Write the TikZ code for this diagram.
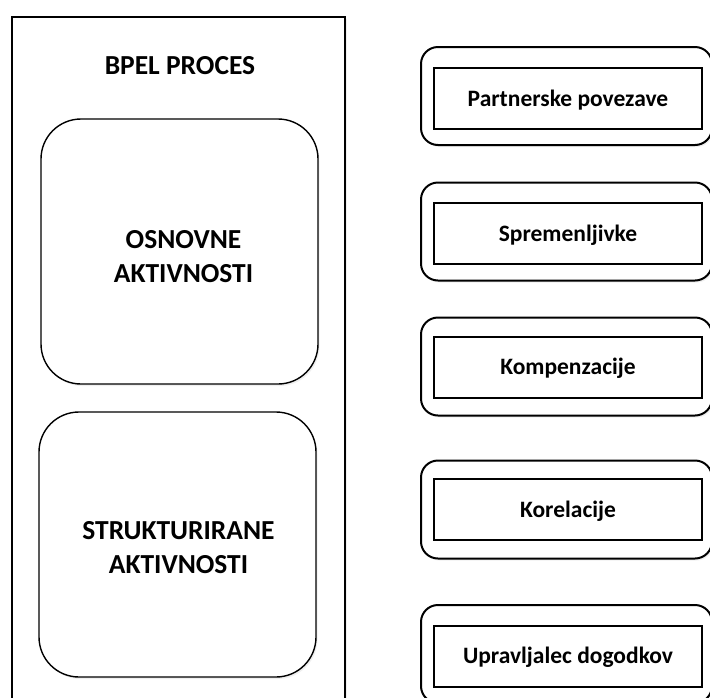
\documentclass[tikz,border=0pt]{standalone}
\usepackage{fontspec}
\setmainfont{Carlito}
\usetikzlibrary{shadows}
\begin{document}
\begin{tikzpicture}[x=1pt,y=-1pt,
  shd/.style={drop shadow={opacity=0.12,shadow xshift=1.5pt,shadow yshift=-2pt}},
  frame/.style={draw=black,line width=2pt,fill=white},
  actbox/.style={draw=black,line width=1.4pt,fill=white,rounded corners=40pt,
     minimum width=277pt,minimum height=265pt,inner sep=0pt,shd},
  acttext/.style={align=center,inner sep=0pt,
     font=\bfseries\fontsize{27.5}{34}\selectfont},
  outbox/.style={draw=black,line width=2pt,fill=white,rounded corners=17pt,
     minimum width=291pt,minimum height=98pt,inner sep=0pt,shd},
  inbox/.style={draw=black,line width=2pt,fill=white,
     minimum width=268pt,minimum height=61pt,inner sep=0pt,
     text height=15pt,text depth=0pt,
     font=\bfseries\fontsize{23.5}{28}\selectfont}]
\useasboundingbox (0,0) rectangle (710,697);
\clip (0,0) rectangle (710,697);
\fill[white] (0,0) rectangle (710,697);
% outer process frame
\node[frame,minimum width=333pt,minimum height=720pt,inner sep=0pt,anchor=north west,
      drop shadow={opacity=0.12,shadow xshift=1.5pt,shadow yshift=-2pt}] (proc) at (11,16) {};
\node[font=\bfseries\fontsize{27.5}{32}\selectfont] (title) at (180,66) {BPEL PROCES};
\node[actbox,label={[acttext,xshift=4pt,yshift=-5pt]center:{OSNOVNE\\AKTIVNOSTI}}] (osn) at (179.5,251.5) {};
\node[actbox,label={[acttext,xshift=1pt,yshift=-3pt]center:{STRUKTURIRANE\\AKTIVNOSTI}}] (str) at (177.5,544.5) {};
% right side
\node[outbox] (oa) at (566.5,96) {};
\node[inbox] (ia) at (568,98.5) {Partnerske povezave};
\node[outbox] (ob) at (566.5,231.5) {};
\node[inbox] (ib) at (568,233.5) {Spremenljivke};
\node[outbox] (oc) at (566.5,366.5) {};
\node[inbox] (ic) at (568,367) {Kompenzacije};
\node[outbox] (od) at (566.5,509.5) {};
\node[inbox] (id) at (568,509.5) {Korelacije};
\node[outbox] (oe) at (566.5,654) {};
\node[inbox] (ie) at (568,656) {Upravljalec dogodkov};
\end{tikzpicture}
\end{document}
